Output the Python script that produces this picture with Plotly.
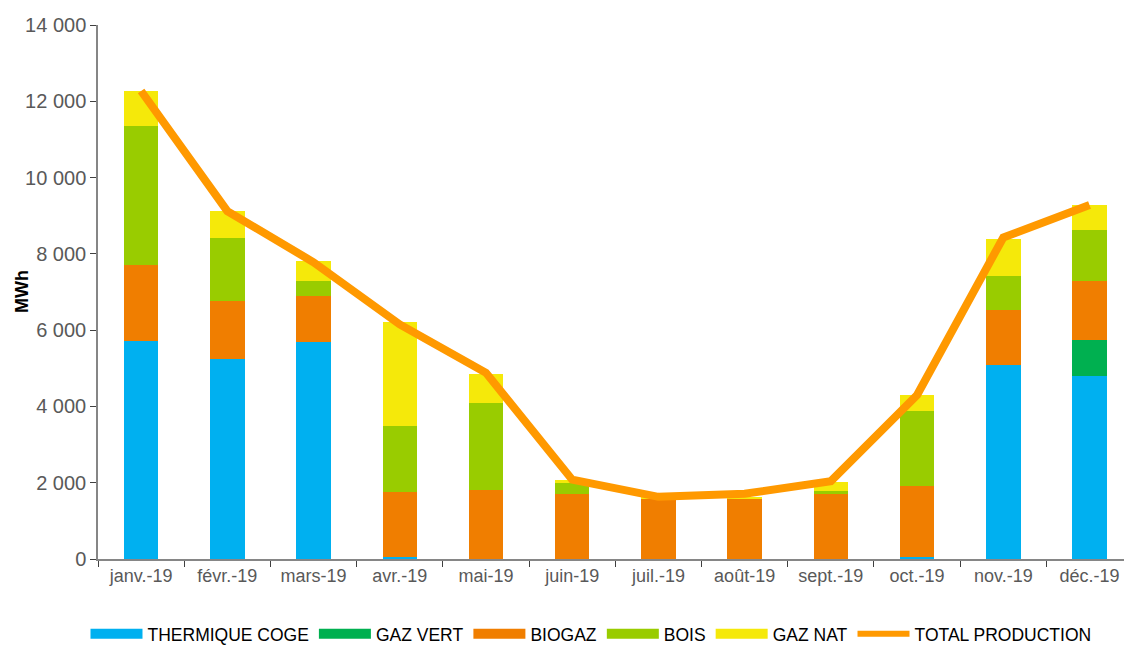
import plotly.graph_objects as go

MONTHS = ["janv.-19", "févr.-19", "mars-19", "avr.-19", "mai-19", "juin-19",
          "juil.-19", "août-19", "sept.-19", "oct.-19", "nov.-19", "déc.-19"]

THERMIQUE_COGE = [5720, 5240, 5690, 50, 0, 0, 0, 0, 0, 45, 5080, 4800]
GAZ_VERT = [0, 0, 0, 0, 0, 0, 0, 0, 0, 0, 0, 935]
BIOGAZ = [1990, 1520, 1210, 1715, 1820, 1710, 1590, 1565, 1730, 1880, 1450, 1565]
BOIS = [3640, 1650, 390, 1720, 2280, 280, 0, 0, 50, 1965, 890, 1330]
GAZ_NAT = [920, 710, 520, 2730, 750, 80, 40, 70, 245, 400, 970, 650]
TOTAL_PRODUCTION = [12270, 9120, 7780, 6150, 4880, 2080, 1630, 1710, 2040, 4300, 8430, 9280]

SERIES = [
    ("THERMIQUE COGE", THERMIQUE_COGE, "#00B0F0"),
    ("GAZ VERT", GAZ_VERT, "#00B050"),
    ("BIOGAZ", BIOGAZ, "#F07E00"),
    ("BOIS", BOIS, "#99CC00"),
    ("GAZ NAT", GAZ_NAT, "#F5E90A"),
]

FONT = "Liberation Sans, Arial, sans-serif"

fig = go.Figure()
for name, values, color in SERIES:
    fig.add_trace(go.Bar(
        x=MONTHS, y=values, name=name, showlegend=False,
        marker=dict(color=color, line=dict(width=0)),
    ))
fig.add_trace(go.Scatter(
    x=MONTHS, y=TOTAL_PRODUCTION, name="TOTAL PRODUCTION", showlegend=False,
    mode="lines", line=dict(color="#FF9900", width=8),
))

# legend entries drawn as wide swatches, like the original spreadsheet chart
for name, _, color in SERIES:
    fig.add_trace(go.Scatter(
        x=[None], y=[None], name=name, mode="lines",
        line=dict(color=color, width=10),
    ))
fig.add_trace(go.Scatter(
    x=[None], y=[None], name="TOTAL PRODUCTION", mode="lines",
    line=dict(color="#FF9900", width=6),
))

fig.update_layout(
    width=1124, height=645,
    barmode="stack", bargap=0.6,
    separators=", ",
    paper_bgcolor="white", plot_bgcolor="white",
    margin=dict(l=98, r=0, t=25, b=86, autoexpand=False),
    font=dict(family=FONT, color="#595959"),
    showlegend=True,
    legend=dict(
        orientation="h", x=0.4805, xanchor="center", y=-0.1404, yanchor="middle",
        font=dict(size=17.5, color="#000000"), traceorder="normal",
        itemwidth=52,
    ),
    xaxis=dict(
        range=[-0.5, 11.4], automargin=False,
        showline=True, linecolor="#868686", linewidth=1.5,
        ticks="outside", tickson="boundaries", ticklen=6, tickcolor="#404040",
        tickfont=dict(size=18, color="#595959"),
        showgrid=False,
    ),
    yaxis=dict(
        range=[0, 14000], dtick=2000, tickformat=",d", automargin=False,
        showline=True, linecolor="#868686", linewidth=1.5,
        ticks="outside", ticklen=6, tickcolor="#404040",
        tickfont=dict(size=20, color="#595959"),
        showgrid=False, zeroline=False,
    ),
    annotations=[dict(
        text="<b>MWh</b>", xref="paper", yref="paper", x=-0.074, y=0.5,
        xanchor="center", yanchor="middle", textangle=-90, showarrow=False,
        font=dict(size=18, color="#000000"),
    )],
)

# drop the default page margin so the figure fills the window exactly
fig.write_html(
    "out.html",
    config={"displayModeBar": False},
    post_script="document.body.style.margin='0';",
)
